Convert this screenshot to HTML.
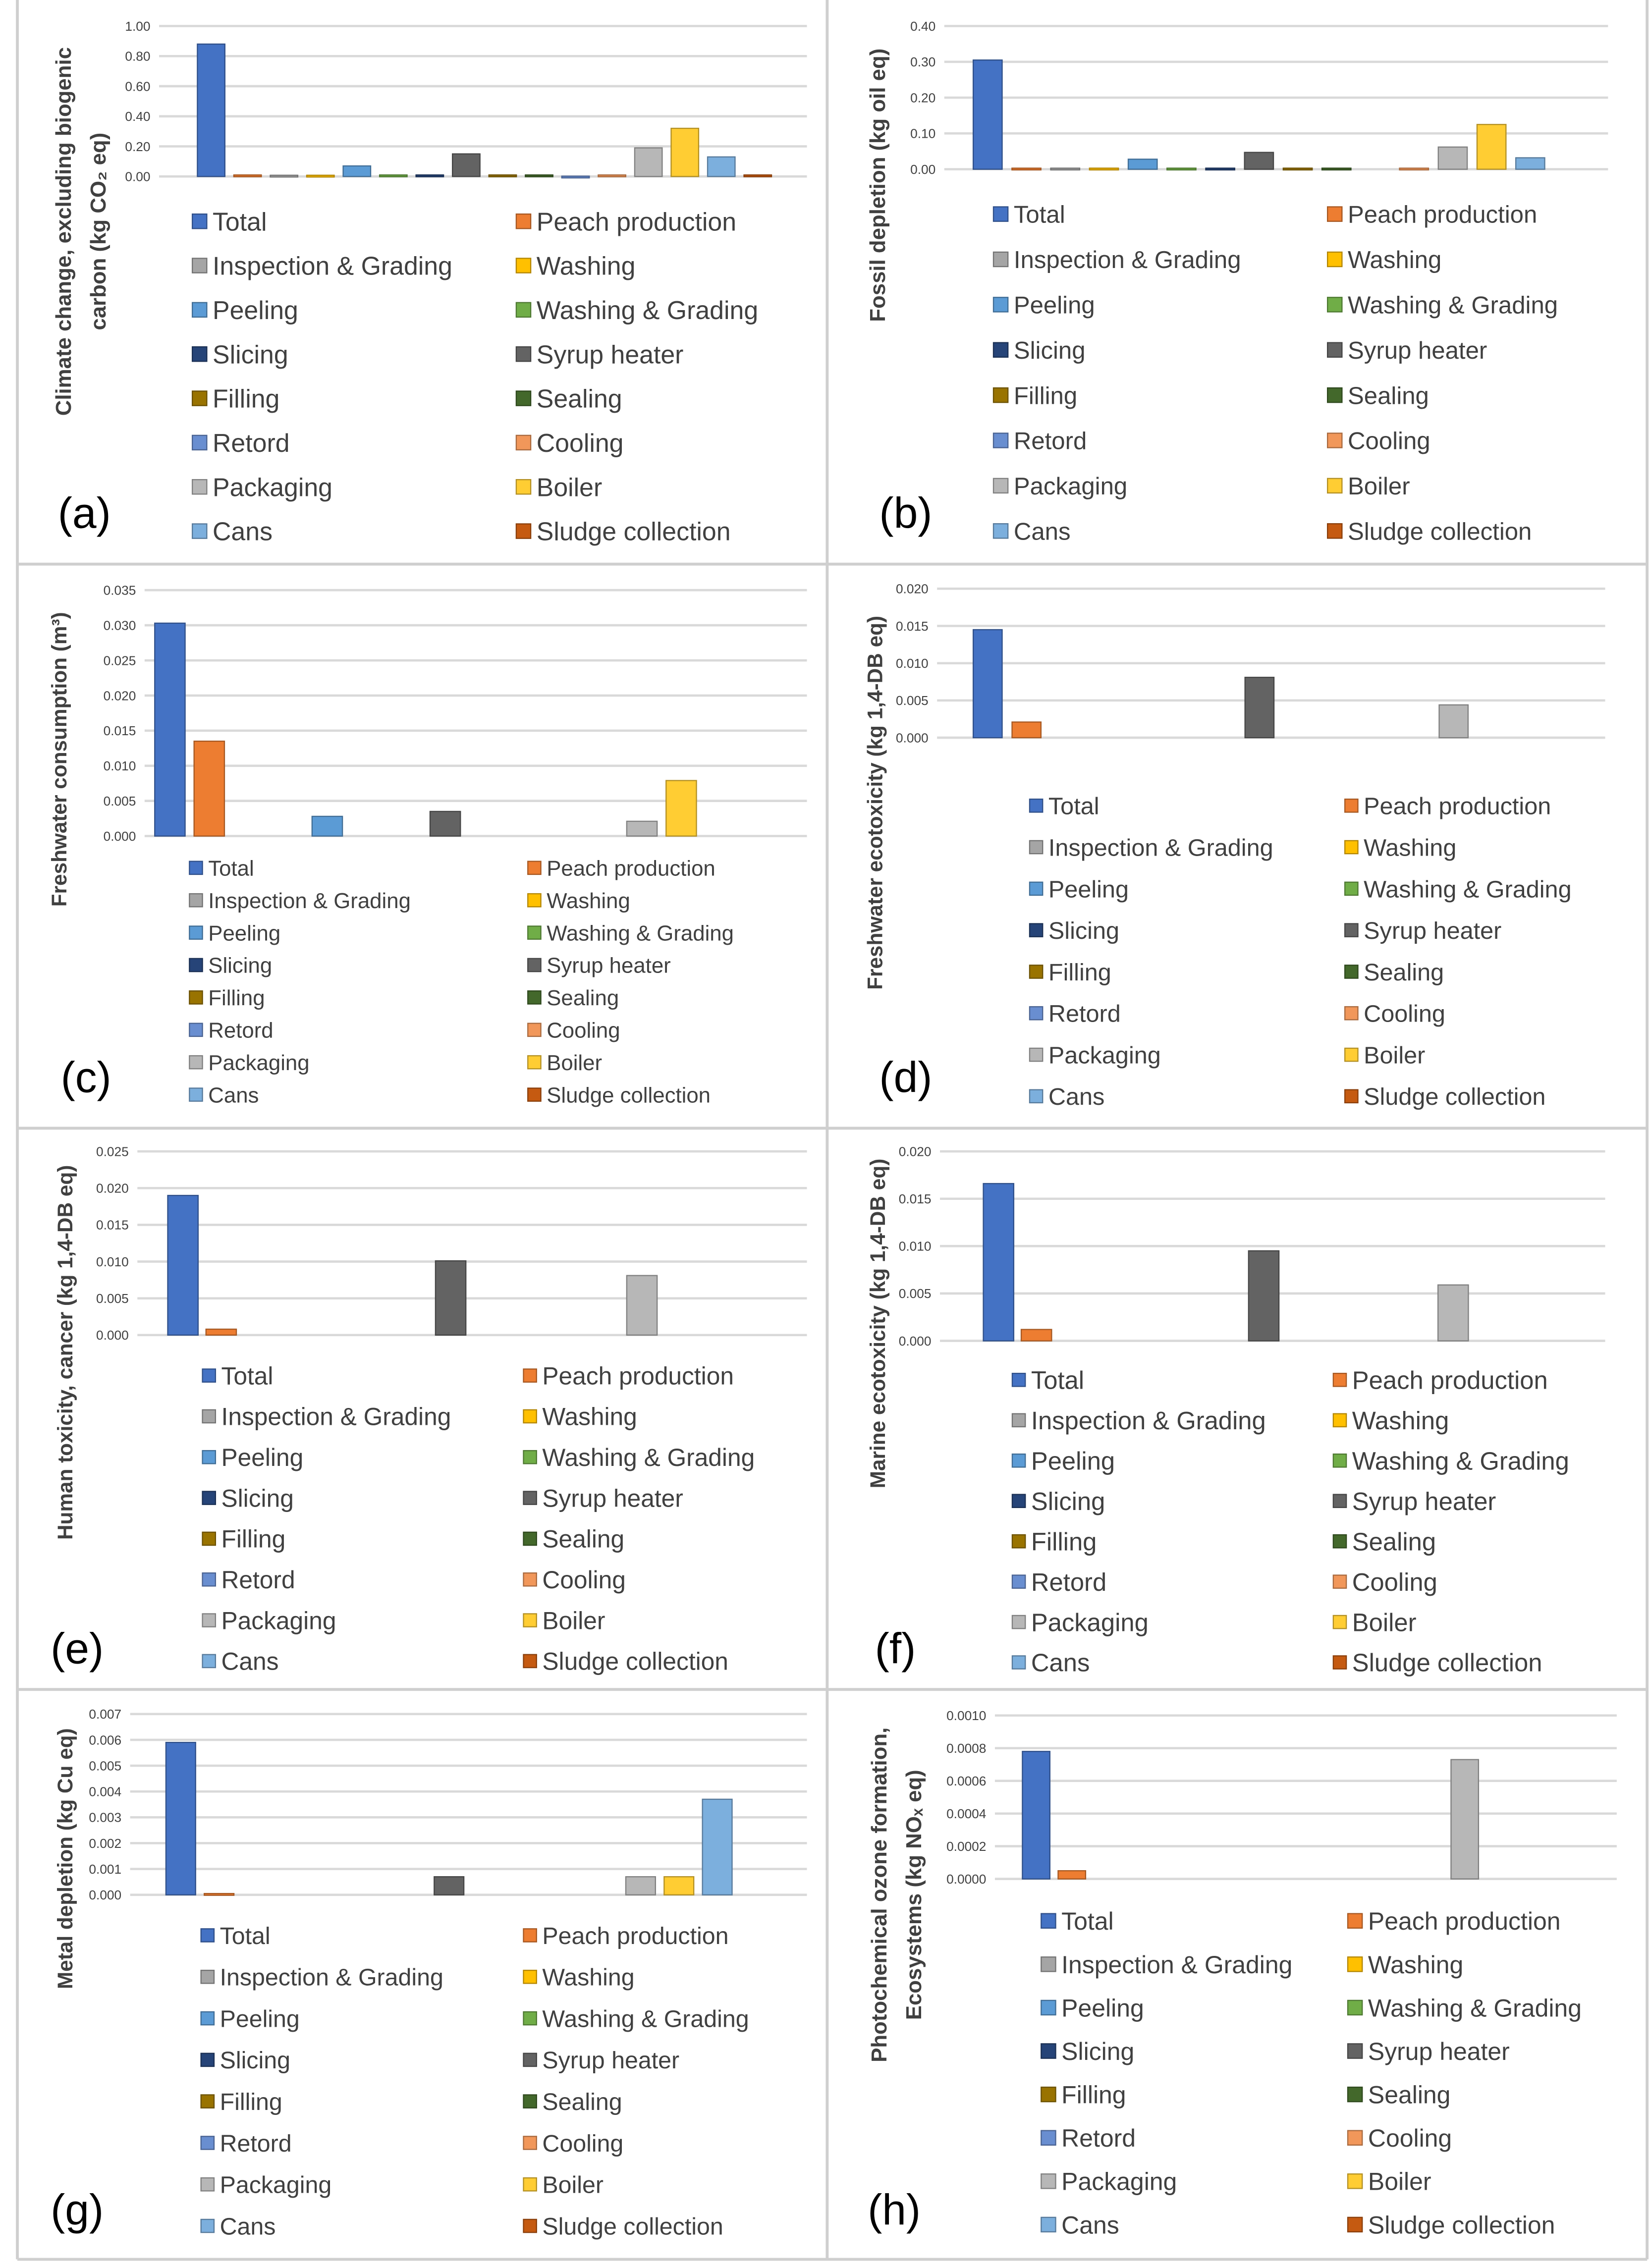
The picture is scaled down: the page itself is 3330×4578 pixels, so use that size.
<!DOCTYPE html>
<html><head><meta charset="utf-8">
<style>
html,body{margin:0;padding:0;background:#fff;}
svg{display:block;}
text{font-family:"Liberation Sans",sans-serif;}
</style></head>
<body>
<svg id="fig" xmlns="http://www.w3.org/2000/svg" width="3330" height="4578" viewBox="0 0 1141 1568" preserveAspectRatio="none">
<rect x="0" y="0" width="1141" height="1568" fill="#fff"/>
</svg>
<script>
const categories = ["Total","Peach production","Inspection & Grading","Washing","Peeling","Washing & Grading","Slicing","Syrup heater","Filling","Sealing","Retord","Cooling","Packaging","Boiler","Cans","Sludge collection"];
const colors = ["#4472C4","#ED7D31","#A5A5A5","#FFC000","#5B9BD5","#70AD47","#264478","#636363","#997300","#43682B","#698ED0","#F1975A","#B7B7B7","#FFCD33","#7CAFDD","#C55A11"];
const valsA = [0.88,0.01,0.008,0.008,0.07,0.01,0.01,0.15,0.01,0.01,0.002,0.01,0.19,0.32,0.13,0.01];
const valsB = [0.305,0.003,0.003,0.003,0.028,0.003,0.003,0.047,0.003,0.003,0,0.003,0.062,0.125,0.032,0];
const valsC = [0.0303,0.0135,0,0,0.0028,0,0,0.0035,0,0,0,0,0.0021,0.0079,0,0];
const valsD = [0.0145,0.0021,0,0,0,0,0,0.0081,0,0,0,0,0.0044,0,0,0];
const valsE = [0.019,0.0008,0,0,0,0,0,0.0101,0,0,0,0,0.0081,0,0,0];
const valsF = [0.0166,0.0012,0,0,0,0,0,0.0095,0,0,0,0,0.0059,0,0,0];
const valsG = [0.0059,0.00005,0,0,0,0,0,0.0007,0,0,0,0,0.0007,0.0007,0.0037,0];
const valsH = [0.00078,0.00005,0,0,0,0,0,0,0,0,0,0,0.00073,0,0,0];
const ticksA = ["0.00","0.20","0.40","0.60","0.80","1.00"];
const ticksB = ["0.00","0.10","0.20","0.30","0.40"];
const ticksC = ["0.000","0.005","0.010","0.015","0.020","0.025","0.030","0.035"];
const ticksD = ["0.000","0.005","0.010","0.015","0.020"];
const ticksE = ["0.000","0.005","0.010","0.015","0.020","0.025"];
const ticksF = ["0.000","0.005","0.010","0.015","0.020"];
const ticksG = ["0.000","0.001","0.002","0.003","0.004","0.005","0.006","0.007"];
const ticksH = ["0.0000","0.0002","0.0004","0.0006","0.0008","0.0010"];

const panels = [
 {id:"a",vals:valsA,ticks:ticksA,gx0:110,gx1:558,yT:18,yB:122,c0:146,step:25.2,bw:19,
  leg:{y0:153,dy:30.6,lx:133,rx:357,fs:19.3,sq:10},lab:[40,355],title:["Climate change, excluding biogenic","carbon (kg CO\u2082 eq)"],tx:[44,68],ty:160,tfs:15},
 {id:"b",vals:valsB,ticks:ticksB,gx0:653,gx1:1112,yT:18,yB:117,c0:683,step:26.8,bw:20,
  leg:{y0:148,dy:31.3,lx:687,rx:918,fs:18.3,sq:10},lab:[608,355],title:["Fossil depletion (kg oil eq)"],tx:[607],ty:128,tfs:15},
 {id:"c",vals:valsC,ticks:ticksC,gx0:100,gx1:558,yT:408,yB:578,c0:117.5,step:27.2,bw:21,
  leg:{y0:600,dy:22.4,lx:131,rx:365,fs:16.3,sq:9},lab:[42,745],title:["Freshwater consumption (m\u00b3)"],tx:[41],ty:525,tfs:14.5},
 {id:"d",vals:valsD,ticks:ticksD,gx0:648,gx1:1110,yT:407,yB:510,c0:683,step:26.85,bw:20,
  leg:{y0:557,dy:28.7,lx:712,rx:930,fs:18.1,sq:9},lab:[608,745],title:["Freshwater ecotoxicity (kg 1,4-DB eq)"],tx:[605],ty:555,tfs:14.5},
 {id:"e",vals:valsE,ticks:ticksE,gx0:95,gx1:558,yT:796,yB:923,c0:126.5,step:26.45,bw:21,
  leg:{y0:951,dy:28.2,lx:140,rx:362,fs:18.5,sq:9},lab:[35,1140],title:["Human toxicity, cancer (kg 1,4-DB eq)"],tx:[45],ty:935,tfs:14.5},
 {id:"f",vals:valsF,ticks:ticksF,gx0:650,gx1:1110,yT:796,yB:927,c0:690.5,step:26.2,bw:21,
  leg:{y0:954,dy:27.9,lx:700,rx:922,fs:18.9,sq:9},lab:[605,1140],title:["Marine ecotoxicity (kg 1,4-DB eq)"],tx:[607],ty:915,tfs:14.5},
 {id:"g",vals:valsG,ticks:ticksG,gx0:90,gx1:558,yT:1185,yB:1310,c0:125,step:26.5,bw:20.5,
  leg:{y0:1338,dy:28.7,lx:139,rx:362,fs:18,sq:9},lab:[35,1528],title:["Metal depletion (kg Cu eq)"],tx:[45],ty:1285,tfs:14.5},
 {id:"h",vals:valsH,ticks:ticksH,gx0:688,gx1:1118,yT:1186,yB:1299,c0:716.5,step:24.7,bw:19,
  leg:{y0:1328,dy:30,lx:720,rx:932,fs:18.6,sq:10},lab:[600,1528],title:["Photochemical ozone formation,","Ecosystems (kg NO\u2093 eq)"],tx:[608,632],ty:1310,tfs:15}
];

const NS="http://www.w3.org/2000/svg";
const fig=document.getElementById("fig");
function mk(tag,attrs,parent){const e=document.createElementNS(NS,tag);for(const k in attrs)e.setAttribute(k,attrs[k]);(parent||fig).appendChild(e);return e;}
function darker(hex){const n=parseInt(hex.slice(1),16);let r=n>>16,g=(n>>8)&255,b=n&255;r=Math.round(r*0.7);g=Math.round(g*0.7);b=Math.round(b*0.7);return "rgb("+r+","+g+","+b+")";}

const borders=mk("g",{stroke:"#cfcfcf","stroke-width":"2",fill:"none"});


mk("line",{x1:12,y1:0,x2:12,y2:1562},borders);
mk("line",{x1:572,y1:0,x2:572,y2:1562},borders);
mk("line",{x1:1139,y1:0,x2:1139,y2:1562},borders);
[390,780,1168,1562].forEach(y=>mk("line",{x1:12,y1:y,x2:1139,y2:y},borders));

panels.forEach(p=>{
  const g=mk("g",{});
  
  
  const maxV=parseFloat(p.ticks[p.ticks.length-1]);
  const yScale=v=>p.yB-(v/maxV)*(p.yB-p.yT);
  const xScale=i=>p.c0+i*p.step;
  p.ticks.forEach(t=>{
    const y=yScale(parseFloat(t));
    const gl=mk("line",{x1:p.gx0,x2:p.gx1,y1:y,y2:y,stroke:"#d9d9d9","stroke-width":"1.6"},g);
    
    
    const tl=mk("text",{x:p.gx0-6,y:y+3.2,"font-size":"9","text-anchor":"end",fill:"#404040"},g);
    
    
    tl.textContent=t;
  });
  p.vals.forEach((v,i)=>{
    if(v<=0)return;
    const y=yScale(v);
    const b=mk("rect",{x:xScale(i)-p.bw/2,y:y,width:p.bw,height:Math.max(p.yB-y,1.2),fill:colors[i],stroke:darker(colors[i]),"stroke-width":"0.8"},g);
    
    
  });
  categories.forEach((c,i)=>{
    const col=i%2, row=Math.floor(i/2);
    const x=col===0?p.leg.lx:p.leg.rx;
    const y=p.leg.y0+row*p.leg.dy;
    const lg=mk("g",{},g);
    
    
    mk("rect",{x:x,y:y-p.leg.sq/2,width:p.leg.sq,height:p.leg.sq,fill:colors[i],stroke:darker(colors[i]),"stroke-width":"0.8"},lg);
    const t=mk("text",{x:x+p.leg.sq+4,y:y+p.leg.fs*0.33,"font-size":p.leg.fs*0.92,fill:"#404040"},lg);
    t.textContent=c;
  });
  const lb=mk("text",{x:p.lab[0],y:p.lab[1]+10,"font-size":"30",fill:"#000"},g);
  
  
  lb.textContent="("+p.id+")";
  p.title.forEach((line,k)=>{
    const x=p.tx[k]+5;
    const t=mk("text",{x:x,y:p.ty,"font-size":p.tfs,"font-weight":"bold","text-anchor":"middle",fill:"#404040",transform:"rotate(-90 "+x+" "+p.ty+")"},g);
    
    
    t.textContent=line;
  });
});
</script>
</body></html>
